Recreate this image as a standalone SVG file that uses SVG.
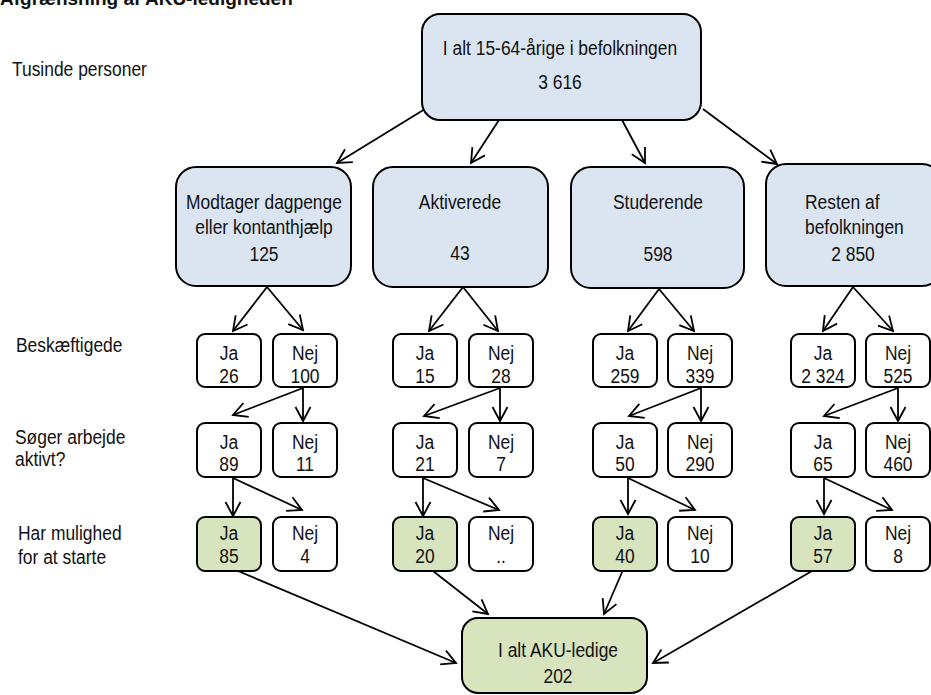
<svg xmlns="http://www.w3.org/2000/svg" width="931" height="695" viewBox="0 0 931 695">
<style>
text{font-family:"Liberation Sans",Arial,sans-serif;font-size:21px;fill:#111;transform-box:fill-box;transform-origin:center;transform:scaleX(0.83)}
.s{transform-origin:left center}
.t{font-size:19px;font-weight:bold;transform:none}
.c{text-anchor:middle}
.blue{fill:#dbe5f1;stroke:#000;stroke-width:2}
.wht{fill:#fff;stroke:#000;stroke-width:2}
.grn{fill:#d7e4bd;stroke:#000;stroke-width:2}
#connectors line{stroke:#000;stroke-width:1.8;fill:none;marker-end:url(#arr)}
</style>
<defs>
<marker id="arr" markerUnits="userSpaceOnUse" markerWidth="18" markerHeight="18" viewBox="0 0 18 18" refX="16" refY="9" orient="auto"><path d="M2,1.5 L16,9 L2,16.5" fill="none" stroke="#000" stroke-width="1.8"/></marker>
</defs>
<rect width="931" height="695" fill="#fff"/>
<g id="labels">
<text class="t" x="0" y="4.5">Afgrænsning af AKU-ledigheden</text>
<text class="s" x="12" y="76">Tusinde personer</text>
<text class="s" x="16" y="352">Beskæftigede</text>
<text class="s" x="15" y="444">Søger arbejde</text>
<text class="s" x="15" y="466">aktivt?</text>
<text class="s" x="18" y="540">Har mulighed</text>
<text class="s" x="18" y="564">for at starte</text>
</g>
<g id="connectors">
<line x1="425" y1="109" x2="337" y2="163"/>
<line x1="499" y1="120" x2="471" y2="163"/>
<line x1="622" y1="120" x2="645" y2="163"/>
<line x1="703" y1="109" x2="777" y2="164"/>
<line x1="267" y1="287" x2="233" y2="331"/>
<line x1="267" y1="287" x2="303" y2="330"/>
<line x1="463" y1="287" x2="429" y2="331"/>
<line x1="463" y1="287" x2="498" y2="331"/>
<line x1="659" y1="289" x2="628" y2="331"/>
<line x1="659" y1="289" x2="694" y2="331"/>
<line x1="853" y1="287" x2="823" y2="331"/>
<line x1="853" y1="287" x2="893" y2="331"/>
<line x1="303" y1="388" x2="233" y2="415"/>
<line x1="303" y1="388" x2="303" y2="421"/>
<line x1="500" y1="388" x2="424" y2="416"/>
<line x1="500" y1="388" x2="500" y2="421"/>
<line x1="701" y1="388" x2="629" y2="416"/>
<line x1="701" y1="388" x2="701" y2="421"/>
<line x1="898" y1="388" x2="824" y2="416"/>
<line x1="898" y1="388" x2="898" y2="421"/>
<line x1="233" y1="478" x2="233" y2="516"/>
<line x1="233" y1="478" x2="302" y2="510"/>
<line x1="423" y1="478" x2="423" y2="516"/>
<line x1="423" y1="478" x2="499" y2="510"/>
<line x1="628" y1="478" x2="628" y2="514"/>
<line x1="628" y1="478" x2="695" y2="510"/>
<line x1="824" y1="478" x2="824" y2="514"/>
<line x1="824" y1="478" x2="892" y2="510"/>
<line x1="238" y1="571" x2="456" y2="663"/>
<line x1="433" y1="571" x2="488" y2="614"/>
<line x1="623" y1="570" x2="604" y2="614"/>
<line x1="812" y1="571" x2="653" y2="663"/>
</g>
<g id="top"><rect class="blue" x="422" y="14" width="279" height="106" rx="18"/><text class="c" x="560" y="55">I alt 15-64-årige i befolkningen</text><text class="c" x="560" y="89">3 616</text></g>
<g id="b1"><rect class="blue" x="176" y="167" width="175" height="119" rx="20"/><text class="c" x="264" y="209">Modtager dagpenge</text><text class="c" x="264" y="234">eller kontanthjælp</text><text class="c" x="264" y="261">125</text></g>
<g id="b2"><rect class="blue" x="373" y="167" width="175" height="120" rx="20"/><text class="c" x="460" y="209">Aktiverede</text><text class="c" x="460" y="260">43</text></g>
<g id="b3"><rect class="blue" x="571" y="167" width="173" height="121" rx="20"/><text class="c" x="658" y="209">Studerende</text><text class="c" x="658" y="261">598</text></g>
<g id="b4"><rect class="blue" x="766" y="164" width="176" height="122" rx="20"/><text class="s" x="805" y="209">Resten af</text><text class="s" x="805" y="234">befolkningen</text><text class="c" x="853" y="261">2 850</text></g>
<g id="c1-l3-ja"><rect class="wht" x="197" y="334" width="64" height="53" rx="8"/><text class="c" x="229" y="360">Ja</text><text class="c" x="229" y="383">26</text></g>
<g id="c1-l3-nej"><rect class="wht" x="273" y="334" width="64" height="53" rx="8"/><text class="c" x="305" y="360">Nej</text><text class="c" x="305" y="383">100</text></g>
<g id="c2-l3-ja"><rect class="wht" x="393" y="334" width="64" height="53" rx="8"/><text class="c" x="425" y="360">Ja</text><text class="c" x="425" y="383">15</text></g>
<g id="c2-l3-nej"><rect class="wht" x="469" y="334" width="64" height="53" rx="8"/><text class="c" x="501" y="360">Nej</text><text class="c" x="501" y="383">28</text></g>
<g id="c3-l3-ja"><rect class="wht" x="593" y="334" width="64" height="53" rx="8"/><text class="c" x="625" y="360">Ja</text><text class="c" x="625" y="383">259</text></g>
<g id="c3-l3-nej"><rect class="wht" x="668" y="334" width="64" height="53" rx="8"/><text class="c" x="700" y="360">Nej</text><text class="c" x="700" y="383">339</text></g>
<g id="c4-l3-ja"><rect class="wht" x="791" y="334" width="64" height="53" rx="8"/><text class="c" x="823" y="360">Ja</text><text class="c" x="823" y="383">2 324</text></g>
<g id="c4-l3-nej"><rect class="wht" x="866" y="334" width="64" height="53" rx="8"/><text class="c" x="898" y="360">Nej</text><text class="c" x="898" y="383">525</text></g>
<g id="c1-l4-ja"><rect class="wht" x="197" y="423" width="64" height="54" rx="8"/><text class="c" x="229" y="449">Ja</text><text class="c" x="229" y="471">89</text></g>
<g id="c1-l4-nej"><rect class="wht" x="273" y="423" width="64" height="54" rx="8"/><text class="c" x="305" y="449">Nej</text><text class="c" x="305" y="471">11</text></g>
<g id="c2-l4-ja"><rect class="wht" x="393" y="423" width="64" height="54" rx="8"/><text class="c" x="425" y="449">Ja</text><text class="c" x="425" y="471">21</text></g>
<g id="c2-l4-nej"><rect class="wht" x="469" y="423" width="64" height="54" rx="8"/><text class="c" x="501" y="449">Nej</text><text class="c" x="501" y="471">7</text></g>
<g id="c3-l4-ja"><rect class="wht" x="593" y="423" width="64" height="54" rx="8"/><text class="c" x="625" y="449">Ja</text><text class="c" x="625" y="471">50</text></g>
<g id="c3-l4-nej"><rect class="wht" x="668" y="423" width="64" height="54" rx="8"/><text class="c" x="700" y="449">Nej</text><text class="c" x="700" y="471">290</text></g>
<g id="c4-l4-ja"><rect class="wht" x="791" y="423" width="64" height="54" rx="8"/><text class="c" x="823" y="449">Ja</text><text class="c" x="823" y="471">65</text></g>
<g id="c4-l4-nej"><rect class="wht" x="866" y="423" width="64" height="54" rx="8"/><text class="c" x="898" y="449">Nej</text><text class="c" x="898" y="471">460</text></g>
<g id="c1-l5-ja"><rect class="grn" x="197" y="517" width="64" height="54" rx="8"/><text class="c" x="229" y="540">Ja</text><text class="c" x="229" y="563">85</text></g>
<g id="c1-l5-nej"><rect class="wht" x="273" y="517" width="64" height="54" rx="8"/><text class="c" x="305" y="540">Nej</text><text class="c" x="305" y="563">4</text></g>
<g id="c2-l5-ja"><rect class="grn" x="393" y="517" width="64" height="54" rx="8"/><text class="c" x="425" y="540">Ja</text><text class="c" x="425" y="563">20</text></g>
<g id="c2-l5-nej"><rect class="wht" x="469" y="517" width="64" height="54" rx="8"/><text class="c" x="501" y="540">Nej</text><text class="c" x="501" y="563">..</text></g>
<g id="c3-l5-ja"><rect class="grn" x="593" y="517" width="64" height="54" rx="8"/><text class="c" x="625" y="540">Ja</text><text class="c" x="625" y="563">40</text></g>
<g id="c3-l5-nej"><rect class="wht" x="668" y="517" width="64" height="54" rx="8"/><text class="c" x="700" y="540">Nej</text><text class="c" x="700" y="563">10</text></g>
<g id="c4-l5-ja"><rect class="grn" x="791" y="517" width="64" height="54" rx="8"/><text class="c" x="823" y="540">Ja</text><text class="c" x="823" y="563">57</text></g>
<g id="c4-l5-nej"><rect class="wht" x="866" y="517" width="64" height="54" rx="8"/><text class="c" x="898" y="540">Nej</text><text class="c" x="898" y="563">8</text></g>
<g id="total"><rect class="grn" x="462" y="618" width="185" height="75" rx="16"/><text class="c" x="558" y="657">I alt AKU-ledige</text><text class="c" x="558" y="683">202</text></g>
</svg>
